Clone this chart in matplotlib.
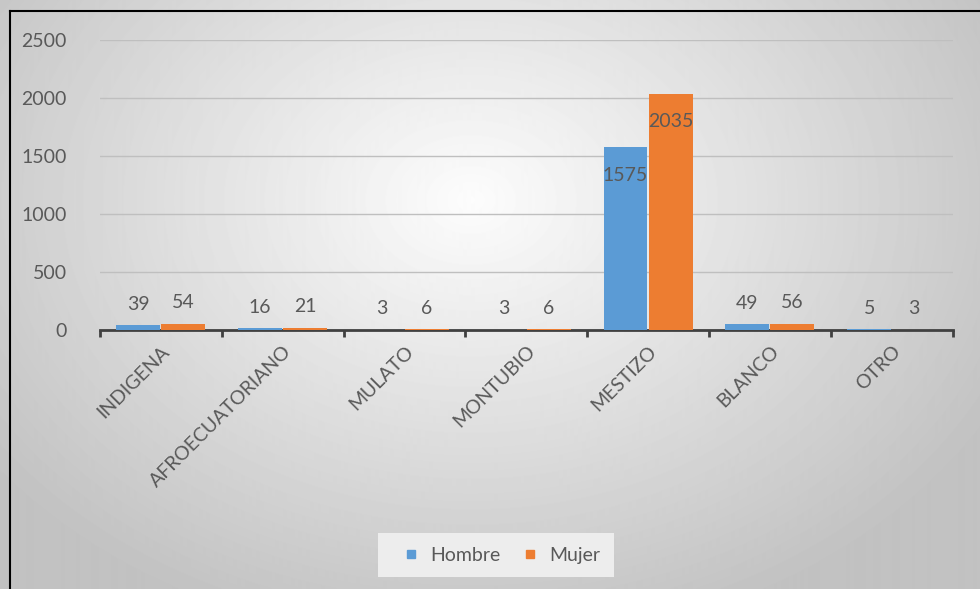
import numpy as np
import matplotlib
matplotlib.use("Agg")
import matplotlib.pyplot as plt
from matplotlib.lines import Line2D

plt.rcParams['font.family'] = ['Lato', 'DejaVu Sans']

categorias = ["INDIGENA", "AFROECUATORIANO", "MULATO", "MONTUBIO", "MESTIZO", "BLANCO", "OTRO"]
hombre = [39, 16, 3, 3, 1575, 49, 5]
mujer = [54, 21, 6, 6, 2035, 56, 3]

azul = "#5B9BD5"
naranja = "#ED7D31"
gris_txt = "#595959"

fig = plt.figure(figsize=(9.8, 5.89), dpi=100)

# fondo con degradado radial (como el de Excel)
bg = fig.add_axes([0, 0, 1, 1], zorder=-10)
yy, xx = np.mgrid[0:589, 0:980]
r = np.sqrt(((xx - 470) / 620.0) ** 2 + ((yy - 200) / 470.0) ** 2)
val = np.clip(0.99 - 0.24 * r, 0.76, 1.0)
bg.imshow(val, cmap="gray", vmin=0, vmax=1, aspect="auto", extent=[0, 980, 589, 0])
bg.plot([9.5, 9.5], [589, 10.5], color="black", lw=1.5)
bg.plot([9.5, 980], [10.5, 10.5], color="black", lw=1.5)
bg.set_xlim(0, 980)
bg.set_ylim(589, 0)
bg.axis("off")

ax = fig.add_axes([0.102, 0.4397, 0.870, 0.4923])
ax.set_facecolor("none")

x = np.arange(len(categorias))
w = 0.36
b1 = ax.bar(x - 0.185, hombre, w, color=azul, zorder=3)
b2 = ax.bar(x + 0.185, mujer, w, color=naranja, zorder=3)

for bars in (b1, b2):
    for rect in bars:
        v = rect.get_height()
        cx = rect.get_x() + rect.get_width() / 2
        if v > 1000:
            ax.annotate(str(int(v)), (cx, v), xytext=(0, -28), textcoords="offset pixels",
                        ha="center", va="center", fontsize=14, color=gris_txt, zorder=4)
        else:
            ax.annotate(str(int(v)), (cx, v), xytext=(0, 21), textcoords="offset pixels",
                        ha="center", va="center", fontsize=14, color=gris_txt, zorder=4)

ax.set_xlim(-0.5, len(categorias) - 0.5)
ax.set_ylim(0, 2500)
ax.set_yticks([0, 500, 1000, 1500, 2000, 2500])
ax.yaxis.grid(True, color="#BFBFBF", lw=1)
ax.set_axisbelow(True)
ax.tick_params(axis="y", length=0, pad=24, labelsize=14, labelcolor=gris_txt)

ax.set_xticks(x)
ax.set_xticklabels(categorias, rotation=45, ha="right", rotation_mode="anchor",
                   fontsize=14, color=gris_txt)
ax.tick_params(axis="x", which="major", length=0, pad=9)
ax.set_xticks(np.arange(len(categorias) + 1) - 0.5, minor=True)
ax.tick_params(axis="x", which="minor", length=5, width=2, color="#404040")

for s in ["top", "right", "left"]:
    ax.spines[s].set_visible(False)
ax.spines["bottom"].set_color("#404040")
ax.spines["bottom"].set_linewidth(2)

handles = [Line2D([], [], marker="s", ls="", color=azul, markersize=6),
           Line2D([], [], marker="s", ls="", color=naranja, markersize=6)]
fig.legend(handles, ["Hombre", "Mujer"], loc="center", bbox_to_anchor=(0.506, 0.0577),
           ncol=2, frameon=True, fancybox=False, facecolor="#EDEDED", edgecolor="none",
           framealpha=1, fontsize=14, handletextpad=0.0, columnspacing=0.5,
           borderpad=0.7, labelcolor=gris_txt)

fig.savefig("out.png", dpi=100)
